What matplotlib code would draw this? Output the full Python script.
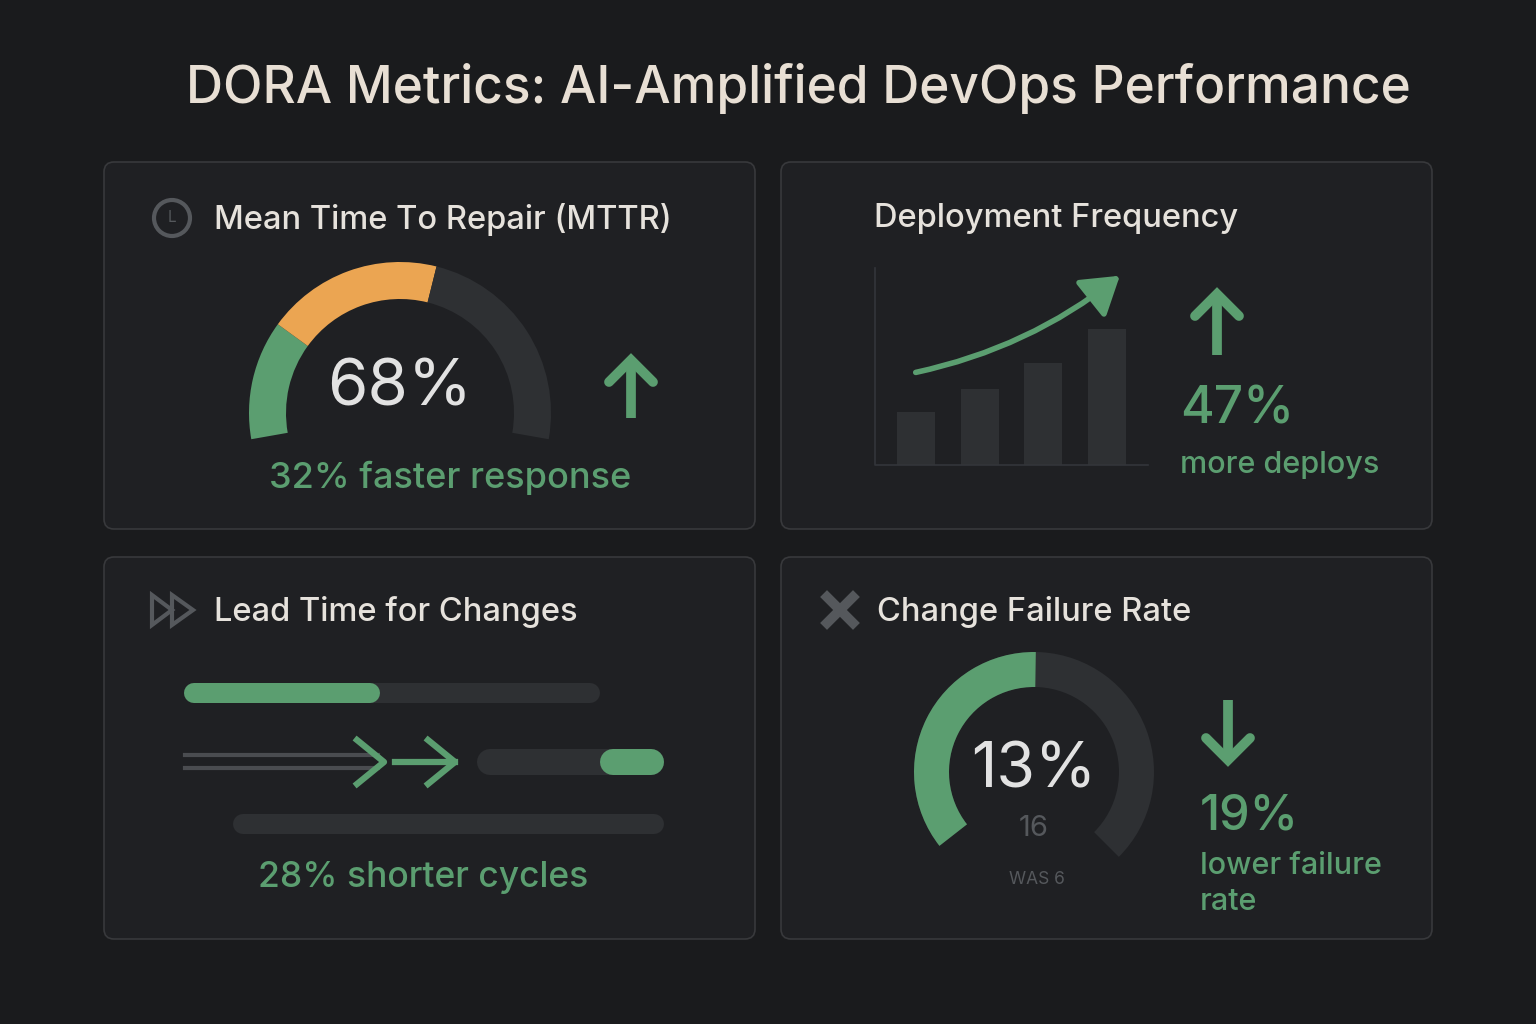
import numpy as np
import matplotlib.pyplot as plt
from matplotlib.patches import FancyBboxPatch, Wedge, Circle, Polygon, FancyArrowPatch

plt.rcParams['font.family'] = ['Inter', 'DejaVu Sans']

BG = '#1a1b1d'
CARD = '#1f2023'
EDGE = '#38393c'
GREEN = '#5b9e70'
ORANGE = '#eba552'
TRACK = '#2e3033'
GREY = '#55585c'
WHITE = '#e6e2dc'

title = 'DORA Metrics: AI-Amplified DevOps Performance'
card_titles = ['Mean Time To Repair (MTTR)', 'Deployment Frequency',
               'Lead Time for Changes', 'Change Failure Rate']

# MTTR gauge: green, orange, grey share of the arc
mttr_value = '68%'
mttr_segments = [0.23, 0.34, 0.43]
mttr_note = '32% faster response'

# deployment frequency bars (relative heights)
deploy_bars = [53, 76, 102, 136]
deploy_value = '47%'
deploy_note = 'more deploys'

# lead time progress bars (fraction filled)
lead_top_fill = 0.47
lead_mid_fill = 0.34
lead_note = '28% shorter cycles'

# change failure gauge
cfr_value = '13%'
cfr_green = 0.49
cfr_sub = '16'
cfr_was = 'WAS 6'
cfr_delta = '19%'
cfr_note = ['lower failure', 'rate']

W, H = 1536, 1024
fig = plt.figure(figsize=(W / 100, H / 100), dpi=100, facecolor=BG)
ax = fig.add_axes([0, 0, 1, 1])
ax.set_xlim(0, W)
ax.set_ylim(0, H)
ax.axis('off')


def Y(y):
    return H - y


def card(x0, y0, x1, y1):
    ax.add_patch(FancyBboxPatch((x0, Y(y1)), x1 - x0, y1 - y0,
                                boxstyle='round,pad=0,rounding_size=10',
                                fc=CARD, ec=EDGE, lw=1.2))


def hbar(x0, x1, y, th, color):
    ax.plot([x0 + th / 2, x1 - th / 2], [Y(y), Y(y)], color=color, lw=th * 0.72,
            solid_capstyle='round')


def arrow(x, y0, y1, lw=7):
    # straight arrow from y0 to y1 (image coords)
    ax.plot([x, x], [Y(y0), Y(y1)], color=GREEN, lw=lw, solid_capstyle='butt')
    d = 1 if y1 < y0 else -1
    ax.plot([x - 22, x, x + 22], [Y(y1 + d * 22), Y(y1), Y(y1 + d * 22)],
            color=GREEN, lw=lw, solid_joinstyle='miter', solid_capstyle='round')


ax.text(798, Y(88), title, ha='center', va='center', fontsize=37,
        fontweight='medium', color='#e8dfd4')

card(104, 162, 755, 529)
card(781, 162, 1432, 529)
card(104, 557, 755, 939)
card(781, 557, 1432, 939)

# ---- MTTR
ax.add_patch(Circle((172, Y(218)), 18, fc='none', ec=GREY, lw=3))
ax.text(172, Y(217), 'L', ha='center', va='center', fontsize=11, color=GREY)
ax.text(214, Y(219), card_titles[0], va='center', fontsize=23.5,
        fontweight='medium', color=WHITE)
cx, cy, r = 400, Y(413), 151
start, span = 190, 200
cols = [GREEN, ORANGE, TRACK]
a = start
for frac, c in zip(mttr_segments, cols):
    b = a - frac * span
    ax.add_patch(Wedge((cx, cy), r, b, a, width=37, fc=c, ec='none'))
    a = b
ax.text(400, Y(388), mttr_value, ha='center', va='center', fontsize=47, color='#e2e2e2')
ax.text(450, Y(478), mttr_note, ha='center', va='center', fontsize=26,
        fontweight='medium', color=GREEN)
arrow(631, 418, 360)

# ---- Deployment frequency
ax.text(874, Y(219), card_titles[1], va='center', fontsize=23.5,
        fontweight='medium', color=WHITE)
ax.plot([875, 875, 1148], [Y(268), Y(465), Y(465)], color='#33353a', lw=1.2)
for i, h in enumerate(deploy_bars):
    x0 = 897 + i * 63.5
    ax.add_patch(plt.Rectangle((x0, Y(465)), 38, h, fc=TRACK, ec='none'))
ax.add_patch(FancyArrowPatch((913, Y(373)), (1122, Y(274)),
                             connectionstyle='arc3,rad=0.12',
                             arrowstyle='-|>,head_length=14,head_width=9',
                             color=GREEN, lw=4, mutation_scale=1.6))
arrow(1217, 355, 294)
ax.text(1180, Y(410), deploy_value, va='center', fontsize=37,
        fontweight='medium', color=GREEN)
ax.text(1180, Y(465), deploy_note, va='center', fontsize=22,
        fontweight='medium', color=GREEN)

# ---- Lead time
ax.add_patch(Polygon([(152, Y(595)), (172, Y(610)), (152, Y(625))], closed=True,
                     fc='none', ec=GREY, lw=3))
ax.add_patch(Polygon([(172, Y(595)), (193, Y(610)), (172, Y(625))], closed=True,
                     fc='none', ec=GREY, lw=3))
ax.text(214, Y(612), card_titles[2], va='center', fontsize=23.5,
        fontweight='medium', color=WHITE)
hbar(184, 600, 693, 20, TRACK)
hbar(184, 184 + lead_top_fill * 416, 693, 20, GREEN)
for yy in (755, 768):
    ax.plot([185, 378], [Y(yy), Y(yy)], color='#4a4c50', lw=3)
ax.plot([357, 384, 357], [Y(740), Y(762), Y(784)], color=GREEN, lw=4.5)
ax.plot([395, 455], [Y(762), Y(762)], color=GREEN, lw=4.5)
ax.plot([428, 455, 428], [Y(740), Y(762), Y(784)], color=GREEN, lw=4.5)
hbar(477, 664, 762, 26, TRACK)
hbar(664 - lead_mid_fill * 187, 664, 762, 26, GREEN)
ax.add_patch(plt.Rectangle((600, Y(775)), 14, 26, fc=GREEN, ec='none'))
hbar(233, 664, 824, 20, TRACK)
ax.text(423, Y(878), lead_note, ha='center', va='center', fontsize=25.5,
        fontweight='medium', color=GREEN)

# ---- Change failure rate
ax.plot([827, 853], [Y(597), Y(623)], color=GREY, lw=7)
ax.plot([827, 853], [Y(623), Y(597)], color=GREY, lw=7)
ax.text(877, Y(612), card_titles[3], va='center', fontsize=23.5,
        fontweight='medium', color=WHITE)
cx, cy, r = 1034, Y(772), 120
start, span = 218, 263
ax.add_patch(Wedge((cx, cy), r, start - span, start, width=35, fc=TRACK, ec='none'))
ax.add_patch(Wedge((cx, cy), r, start - cfr_green * span, start, width=35, fc=GREEN, ec='none'))
ax.text(1034, Y(771), cfr_value, ha='center', va='center', fontsize=45, color='#e2e2e2')
ax.text(1034, Y(828), cfr_sub, ha='center', va='center', fontsize=21, color=GREY)
ax.text(1037, Y(880), cfr_was, ha='center', va='center', fontsize=12.5, color=GREY)
arrow(1228, 700, 760)
ax.text(1200, Y(816), cfr_delta, va='center', fontsize=35,
        fontweight='medium', color=GREEN)
for i, line in enumerate(cfr_note):
    ax.text(1200, Y(866 + 36 * i), line, va='center', fontsize=22,
            fontweight='medium', color=GREEN)

fig.savefig('out.png', dpi=100, facecolor=BG)
